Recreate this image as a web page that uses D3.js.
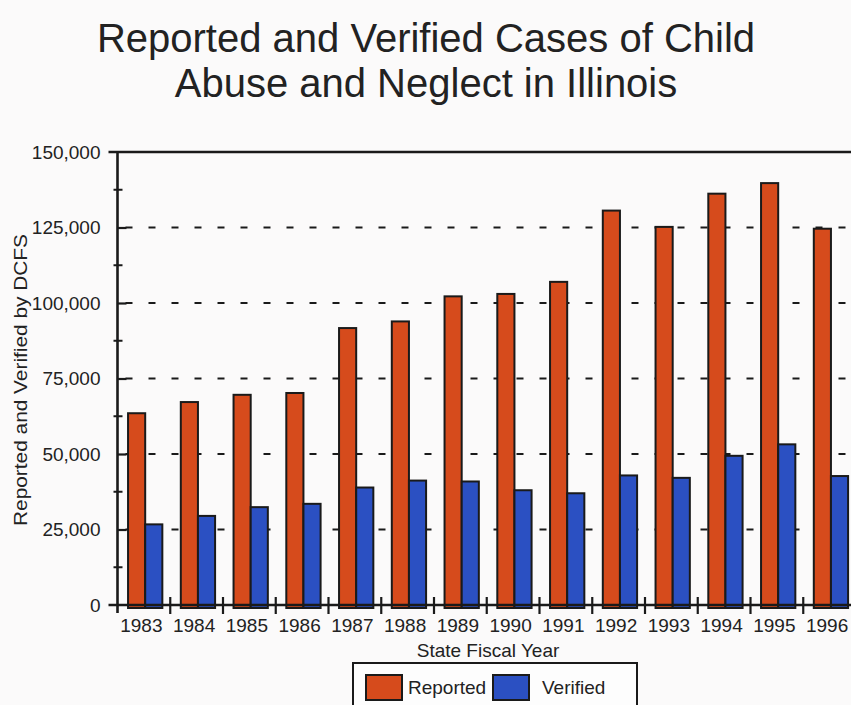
<!DOCTYPE html>
<html>
<head>
<meta charset="utf-8">
<script src="https://cdn.jsdelivr.net/npm/d3@7"></script>
<style>
  html, body { margin: 0; padding: 0; background: #fbfafa; }
  svg { display: block; font-family: "Liberation Sans", Arial, Helvetica, sans-serif; }
</style>
</head>
<body>
<svg id="chart" width="851" height="705"></svg>
<script>
// Fiscal years and DCFS case counts
const years = ["1983","1984","1985","1986","1987","1988","1989","1990","1991","1992","1993","1994","1995","1996"];
const reported = [63500, 67200, 69600, 70200, 91700, 93900, 102200, 103000, 107000, 130600, 125200, 136200, 139700, 124600];
const verified = [26700, 29500, 32400, 33500, 38900, 41200, 40900, 38000, 37000, 42900, 42100, 49400, 53200, 42700];
const seriesNames = ["Reported", "Verified"];
const seriesColors = ["#d64b1c", "#2b50c2"];
const yTicks = [0, 25000, 50000, 75000, 100000, 125000, 150000];
const titleLines = ["Reported and Verified Cases of Child", "Abuse and Neglect in Illinois"];

(function drawChart() {
  const svg = d3.select("#chart");
  const ink = "#1a1a1a";

  const plotLeft = 117.5, plotBase = 605, plotTop = 152;
  const x = d3.scaleBand().domain(years).range([plotLeft, plotLeft + 52.75 * years.length]);
  const x1 = d3.scaleBand().domain(seriesNames)
    .range([x.bandwidth() * 0.2, x.bandwidth() * 0.85]);
  const y = d3.scaleLinear().domain([0, 150000]).range([plotBase, plotTop]);

  // title
  svg.append("g").selectAll("text").data(titleLines).join("text")
    .attr("x", 426).attr("y", (d, i) => 52 + i * 45)
    .attr("text-anchor", "middle").attr("font-size", 40).attr("fill", "#222")
    .text(d => d);

  // dashed gridlines
  svg.append("g").selectAll("line")
    .data(yTicks.filter(v => v > 0 && v < 150000)).join("line")
    .attr("x1", plotLeft + 8).attr("x2", 851)
    .attr("y1", d => y(d)).attr("y2", d => y(d))
    .attr("stroke", ink).attr("stroke-width", 2).attr("stroke-dasharray", "7,16");

  // bars
  const rows = years.map((yr, i) => ({ year: yr, values: [reported[i], verified[i]] }));
  const groups = svg.append("g").selectAll("g").data(rows).join("g")
    .attr("transform", d => `translate(${x(d.year)},0)`);
  groups.selectAll("rect")
    .data(d => d.values.map((v, k) => ({ key: seriesNames[k], value: v, color: seriesColors[k] })))
    .join("rect")
    .attr("x", d => x1(d.key)).attr("width", x1.bandwidth())
    .attr("y", d => y(d.value)).attr("height", d => y(0) - y(d.value) + 3)
    .attr("fill", d => d.color).attr("stroke", ink).attr("stroke-width", 2);

  // y axis with minor ticks
  const yAxis = d3.axisLeft(y).tickValues(yTicks).tickFormat(d3.format(",")).tickSize(9).tickPadding(8);
  const gy = svg.append("g").attr("transform", `translate(${plotLeft},0)`).call(yAxis);
  gy.select(".domain").remove();
  gy.selectAll(".tick line").attr("x2", d => (d === 0 || d === 150000) ? 0 : 9)
    .attr("stroke", ink).attr("stroke-width", 2.2);
  gy.selectAll(".tick text").attr("font-size", 19).attr("fill", "#222")
    .attr("font-family", "Liberation Sans, Arial, sans-serif");
  const minor = d3.range(12500, 150000, 25000);
  svg.append("g").selectAll("line").data(minor).join("line")
    .attr("x1", plotLeft - 4).attr("x2", plotLeft + 5)
    .attr("y1", d => y(d)).attr("y2", d => y(d))
    .attr("stroke", ink).attr("stroke-width", 2);

  // frame lines
  svg.append("line").attr("x1", plotLeft).attr("x2", plotLeft).attr("y1", plotTop - 1).attr("y2", plotBase + 8)
    .attr("stroke", ink).attr("stroke-width", 2.6);
  svg.append("line").attr("x1", plotLeft - 9).attr("x2", 851).attr("y1", plotTop).attr("y2", plotTop)
    .attr("stroke", ink).attr("stroke-width", 2.6);

  // x axis
  const xAxis = d3.axisBottom(x).tickSize(0).tickPadding(14);
  const gx = svg.append("g").attr("transform", `translate(0,${plotBase})`).call(xAxis);
  gx.select(".domain").remove();
  gx.selectAll(".tick text").attr("font-size", 19).attr("fill", "#222").attr("dx", -2.5)
    .attr("font-family", "Liberation Sans, Arial, sans-serif");
  svg.append("line").attr("x1", plotLeft - 9).attr("x2", 851).attr("y1", plotBase).attr("y2", plotBase)
    .attr("stroke", ink).attr("stroke-width", 2.6);
  svg.append("g").selectAll("line").data(years.slice(1)).join("line")
    .attr("x1", d => x(d)).attr("x2", d => x(d))
    .attr("y1", plotBase - 8).attr("y2", plotBase + 9)
    .attr("stroke", ink).attr("stroke-width", 2.2);

  // axis titles
  svg.append("text").attr("x", 488).attr("y", 657).attr("text-anchor", "middle")
    .attr("font-size", 19).attr("fill", "#222").text("State Fiscal Year");
  svg.append("text").attr("transform", "translate(27,380) rotate(-90)")
    .attr("text-anchor", "middle").attr("font-size", 18).attr("fill", "#222")
    .attr("textLength", 292).attr("lengthAdjust", "spacingAndGlyphs")
    .text("Reported and Verified by DCFS");

  // legend
  const lg = svg.append("g");
  lg.append("rect").attr("x", 353).attr("y", 663).attr("width", 284).attr("height", 44)
    .attr("fill", "#fdfdfd").attr("stroke", ink).attr("stroke-width", 2);
  const legendItems = [
    { name: seriesNames[0], color: seriesColors[0], sx: 366, tx: 408 },
    { name: seriesNames[1], color: seriesColors[1], sx: 493, tx: 542 }
  ];
  legendItems.forEach(it => {
    lg.append("rect").attr("x", it.sx).attr("y", 675).attr("width", 36).attr("height", 25)
      .attr("fill", it.color).attr("stroke", ink).attr("stroke-width", 2);
    lg.append("text").attr("x", it.tx).attr("y", 694).attr("font-size", 19).attr("fill", "#222")
      .text(it.name);
  });
})();
</script>
</body>
</html>
